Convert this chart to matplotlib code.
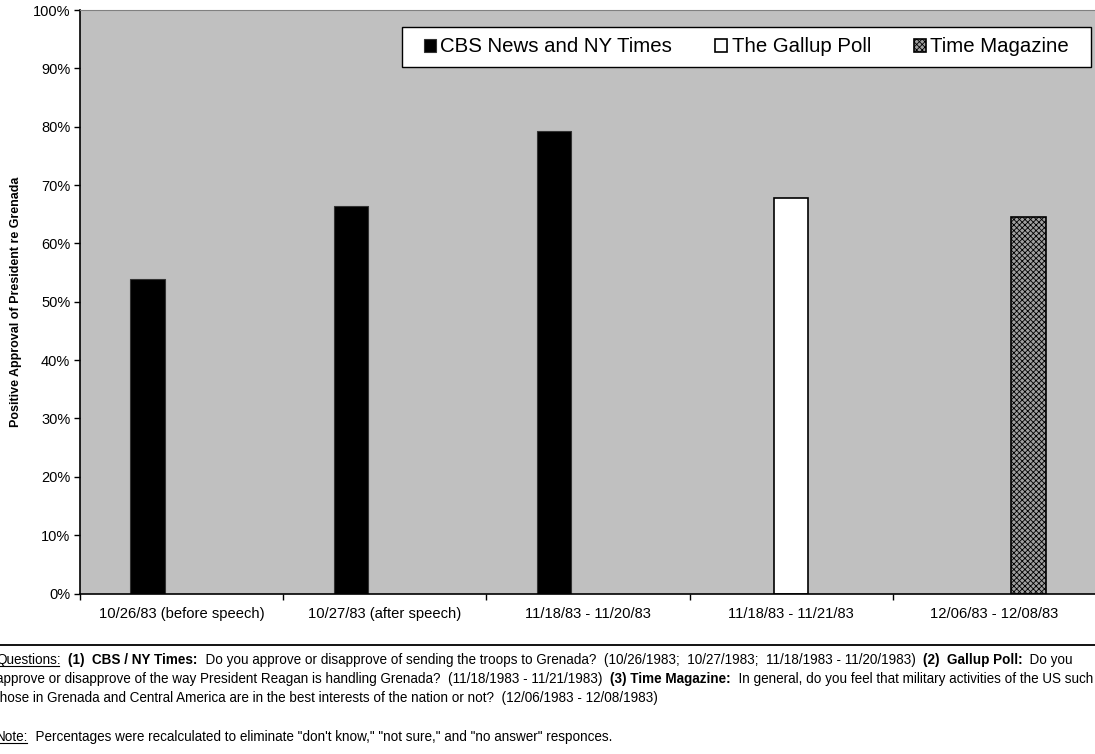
import numpy as np
import matplotlib
matplotlib.use("Agg")
import matplotlib.pyplot as plt
from matplotlib.ticker import PercentFormatter
from matplotlib.patches import Rectangle
from matplotlib.offsetbox import TextArea, HPacker, AnchoredOffsetbox

categories = ["10/26/83 (before speech)", "10/27/83 (after speech)",
              "11/18/83 - 11/20/83", "11/18/83 - 11/21/83", "12/06/83 - 12/08/83"]
cbs_nyt = [53.9, 66.4, 79.3, np.nan, np.nan]
gallup = [np.nan, np.nan, np.nan, 67.7, np.nan]
time_mag = [np.nan, np.nan, np.nan, np.nan, 64.5]
series_names = ["CBS News and NY Times", "The Gallup Poll", "Time Magazine"]
y_ticks = [0, 10, 20, 30, 40, 50, 60, 70, 80, 90, 100]

plt.rcParams['font.family'] = ['Liberation Sans', 'DejaVu Sans']
plt.rcParams['hatch.linewidth'] = 0.6

W, H = 1095, 754
fig = plt.figure(figsize=(W / 100, H / 100), dpi=100)
ax = fig.add_axes([80 / W, 1 - 593.5 / H, (1096 - 80) / W, (593.5 - 10) / H])
ax.set_facecolor("#c0c0c0")

x = np.arange(len(categories))
w = 0.168
b1 = ax.bar(x - w, cbs_nyt, w, color="black", edgecolor="#333333", linewidth=0.8, label=series_names[0])
b2 = ax.bar(x, gallup, w, color="white", edgecolor="black", linewidth=1.2, label=series_names[1])
b3 = ax.bar(x + w, time_mag, w, color="#a0a0a0", edgecolor="black", linewidth=1.2,
            hatch="xxxxxx", label=series_names[2])

ax.set_xlim(-0.5, len(categories) - 0.5)
ax.set_ylim(0, 100)
ax.set_yticks(y_ticks)
ax.yaxis.set_major_formatter(PercentFormatter(decimals=0))
ax.tick_params(axis="y", direction="out", length=4, width=1, labelsize=10.5, pad=3)

ax.set_xticks(np.arange(-0.5, len(categories), 1.0))
ax.set_xticklabels([])
ax.tick_params(axis="x", which="major", direction="out", length=4, width=1)
ax.set_xticks(x, minor=True)
ax.set_xticklabels(categories, minor=True)
ax.tick_params(axis="x", which="minor", length=0, labelsize=10.6, pad=10)

for s in ["left", "bottom"]:
    ax.spines[s].set_color("black")
    ax.spines[s].set_linewidth(1.2)
ax.spines["top"].set_color("#808080")
ax.spines["right"].set_visible(False)

ax.set_ylabel("Positive Approval of President re Grenada", fontsize=9, fontweight="bold", labelpad=8)

# legend frame (wider padding than matplotlib's default box)
fig.add_artist(Rectangle((402 / W, 1 - 67 / H), (1091 - 402) / W, 40 / H,
                         transform=fig.transFigure, facecolor="white", edgecolor="black",
                         linewidth=1.0, zorder=4))
leg = fig.legend(handles=[b1, b2, b3], loc="center", ncol=3,
                 bbox_to_anchor=(746.5 / W, 1 - 47 / H),
                 fontsize=14.7, frameon=False,
                 handlelength=0.6, handleheight=0.6, handletextpad=0.2,
                 columnspacing=2.1, borderaxespad=0, borderpad=0.5)
leg.set_zorder(5)

# separator line
fig.add_artist(plt.Line2D([0, 1], [1 - 645 / H, 1 - 645 / H], transform=fig.transFigure,
                          color="black", linewidth=1.3))

fam = ['Liberation Sans Narrow', 'Liberation Sans']
fs = 9.75

def line(parts, ypix):
    boxes = []
    for txt, style in parts:
        props = dict(fontsize=fs, family=fam, color="black")
        if style == "b":
            props["fontweight"] = "bold"
        boxes.append(TextArea(txt, textprops=props))
    pack = HPacker(children=boxes, align="baseline", pad=0, sep=0)
    ab = AnchoredOffsetbox(loc="center left", child=pack, pad=0, borderpad=0, frameon=False,
                           bbox_to_anchor=(-4 / W, 1 - ypix / H), bbox_transform=fig.transFigure)
    fig.add_artist(ab)

line([("Questions:", "u"), ("  ", "n"), ("(1)  CBS / NY Times:", "b"),
      ("  Do you approve or disapprove of sending the troops to Grenada?  (10/26/1983;  10/27/1983;  11/18/1983 - 11/20/1983)  ", "n"),
      ("(2)  Gallup Poll:", "b"), ("  Do you", "n")], 660)
line([("approve or disapprove of the way President Reagan is handling Grenada?  (11/18/1983 - 11/21/1983)  ", "n"),
      ("(3) Time Magazine:", "b"),
      ("  In general, do you feel that military activities of the US such", "n")], 679)
line([("those in Grenada and Central America are in the best interests of the nation or not?  (12/06/1983 - 12/08/1983)", "n")], 698)
line([("Note:", "u"), ("  Percentages were recalculated to eliminate \"don't know,\" \"not sure,\" and \"no answer\" responces.", "n")], 737)

# underlines for "Questions:" and "Note:"
fig.add_artist(plt.Line2D([0, 59 / W], [1 - 666 / H, 1 - 666 / H], transform=fig.transFigure, color="black", linewidth=0.8))
fig.add_artist(plt.Line2D([0, 27 / W], [1 - 743 / H, 1 - 743 / H], transform=fig.transFigure, color="black", linewidth=0.8))

fig.savefig("out.png", dpi=100, facecolor="white")
